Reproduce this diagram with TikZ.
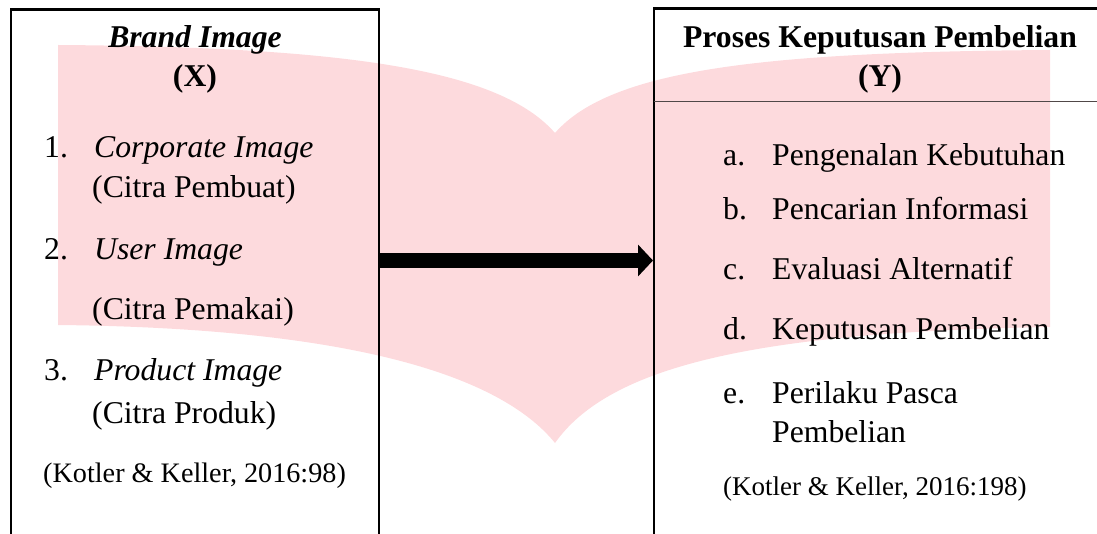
\documentclass[tikz,border=0pt]{standalone}
\usepackage{fontspec}
\setmainfont{Liberation Serif}
\usetikzlibrary{arrows.meta}
\definecolor{wmpink}{RGB}{253,218,221}
\definecolor{rulegray}{RGB}{80,72,72}

\tikzset{
  frame/.style={line width=2.4pt, black},
  divider/.style={line width=1.6pt, rulegray},
  txt/.style={anchor=base west, inner sep=0pt, font=\fontsize{31.7}{38}\selectfont},
  ttl/.style={anchor=base, inner sep=0pt, font=\fontsize{31.7}{38}\selectfont\bfseries},
  cite/.style={anchor=base west, inner sep=0pt},
  flow/.style={line width=15pt, -{Triangle[length=15pt,width=31pt]}},
}

\begin{document}
\begin{tikzpicture}[x=1pt, y=-1pt]
\useasboundingbox (0,0) rectangle (1097,534);

% open-book emblem in the background
\fill[wmpink]
  (58,45) .. controls (350,47) and (500,70) .. (555,133)
          .. controls (610,70) and (760,52) .. (1050,50)
  -- (1050,327)
          .. controls (760,332) and (610,365) .. (555,443)
          .. controls (500,375) and (350,328) .. (58,325)
  -- cycle;

% box corners
\coordinate (lbl) at (10.7,534);
\coordinate (ltl) at (10.7,9.7);
\coordinate (ltr) at (379,9.7);
\coordinate (lbr) at (379,534);
\coordinate (rbl) at (653.7,534);
\coordinate (rtl) at (653.7,8.7);
\coordinate (rtr) at (1097,8.7);
\coordinate (rdl) at (653.7,101.7);
\coordinate (rdr) at (1097,101.7);

% frames
\draw[frame] (lbl) -- (ltl) -- (ltr) -- (lbr);
\draw[frame] (rbl) -- (rtl) -- (rtr);
\draw[divider] (rdl) -- (rdr);

% arrow from X to Y
\coordinate (xout) at (380,260.5);
\coordinate (yin) at (653,260.5);
\draw[flow] (xout) -- (yin);

% left box: Brand Image (X)
\node[ttl] (xtitle) at (195,48) {\itshape Brand Image};
\node[ttl] (xvar) at (195,87) {(X)};
\node[txt] (n1) at (44,158) {1.};
\node[txt] (x1) at (94,158) {\itshape Corporate Image};
\node[txt] (x1b) at (92,198) {(Citra Pembuat)};
\node[txt] (n2) at (44,260) {2.};
\node[txt] (x2) at (94,260) {\itshape User Image};
\node[txt] (x2b) at (92,320) {(Citra Pemakai)};
\node[txt] (n3) at (44,380) {3.};
\node[txt] (x3) at (94,380) {\itshape Product Image};
\node[txt] (x3b) at (92,423) {(Citra Produk)};
\node[cite, font=\fontsize{28.2}{34}\selectfont] (xcite) at (43,482) {(Kotler \& Keller, 2016:98)};

% right box: Proses Keputusan Pembelian (Y)
\node[ttl] (ytitle) at (880,48) {Proses Keputusan Pembelian};
\node[ttl] (yvar) at (880,87) {(Y)};
\node[txt] (la) at (723,166) {a.};
\node[txt] (ya) at (772,166) {Pengenalan Kebutuhan};
\node[txt] (lb) at (723,220) {b.};
\node[txt] (yb) at (772,220) {Pencarian Informasi};
\node[txt] (lc) at (723,280) {c.};
\node[txt] (yc) at (772,280) {Evaluasi Alternatif};
\node[txt] (ld) at (723,340) {d.};
\node[txt] (yd) at (772,340) {Keputusan Pembelian};
\node[txt] (le) at (723,403) {e.};
\node[txt] (ye) at (772,403) {Perilaku Pasca};
\node[txt] (ye2) at (772,442) {Pembelian};
\node[cite, font=\fontsize{27}{33}\selectfont] (ycite) at (723,495) {(Kotler \& Keller, 2016:198)};
\end{tikzpicture}
\end{document}
